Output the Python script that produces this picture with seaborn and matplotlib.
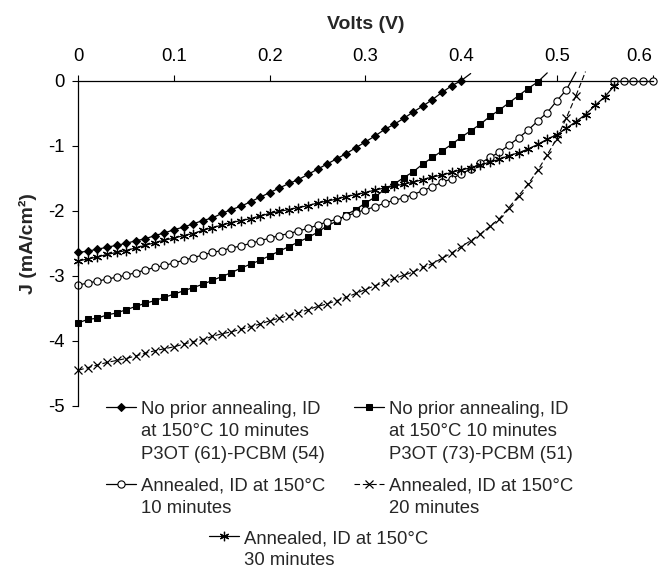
import matplotlib
matplotlib.use("Agg")
import matplotlib.pyplot as plt
import seaborn as sns
import pandas as pd

# ---------------- data ----------------
volts = [0.00, 0.01, 0.02, 0.03, 0.04, 0.05, 0.06, 0.07, 0.08, 0.09,
         0.10, 0.11, 0.12, 0.13, 0.14, 0.15, 0.16, 0.17, 0.18, 0.19,
         0.20, 0.21, 0.22, 0.23, 0.24, 0.25, 0.26, 0.27, 0.28, 0.29,
         0.30, 0.31, 0.32, 0.33, 0.34, 0.35, 0.36, 0.37, 0.38, 0.39,
         0.40, 0.41, 0.42, 0.43, 0.44, 0.45, 0.46, 0.47, 0.48, 0.49,
         0.50, 0.51, 0.52, 0.53, 0.54, 0.55, 0.56, 0.57, 0.58, 0.59, 0.60]

j_no_anneal_61_54 = [-2.64, -2.62, -2.59, -2.56, -2.53, -2.50, -2.46, -2.43, -2.38, -2.34,
                     -2.29, -2.25, -2.20, -2.15, -2.11, -2.04, -1.98, -1.93, -1.86, -1.79,
                     -1.72, -1.65, -1.58, -1.52, -1.44, -1.36, -1.28, -1.20, -1.12, -1.03,
                     -0.94, -0.85, -0.75, -0.67, -0.58, -0.48, -0.39, -0.29, -0.18, -0.08,
                     0.00]
j_no_anneal_61_54_next = 0.11   # line continues past the last marker

j_no_anneal_73_51 = [-3.72, -3.67, -3.65, -3.60, -3.57, -3.52, -3.47, -3.42, -3.38, -3.33,
                     -3.28, -3.23, -3.18, -3.13, -3.07, -3.01, -2.95, -2.88, -2.82, -2.76,
                     -2.69, -2.62, -2.55, -2.48, -2.41, -2.33, -2.23, -2.16, -2.06, -1.98,
                     -1.88, -1.79, -1.67, -1.59, -1.49, -1.40, -1.28, -1.18, -1.08, -0.98,
                     -0.87, -0.77, -0.67, -0.55, -0.45, -0.34, -0.23, -0.12, -0.02]
j_no_anneal_73_51_next = 0.12

j_annealed_10 = [-3.14, -3.11, -3.08, -3.05, -3.02, -2.99, -2.95, -2.91, -2.87, -2.84,
                 -2.80, -2.76, -2.72, -2.68, -2.64, -2.61, -2.57, -2.54, -2.50, -2.46,
                 -2.42, -2.38, -2.35, -2.31, -2.27, -2.22, -2.17, -2.13, -2.08, -2.03,
                 -1.98, -1.94, -1.88, -1.84, -1.80, -1.75, -1.69, -1.63, -1.56, -1.51,
                 -1.43, -1.36, -1.27, -1.18, -1.10, -0.99, -0.88, -0.76, -0.62, -0.49,
                 -0.31, -0.14]
j_annealed_10_next = 0.13
volts_annealed_10_tail = [0.56, 0.57, 0.58, 0.59, 0.60]
j_annealed_10_tail = [0.00, 0.00, 0.00, 0.00, 0.00]

j_annealed_20 = [-4.45, -4.41, -4.37, -4.33, -4.30, -4.27, -4.23, -4.19, -4.15, -4.12,
                 -4.09, -4.05, -4.01, -3.98, -3.93, -3.89, -3.86, -3.82, -3.78, -3.74,
                 -3.69, -3.65, -3.61, -3.57, -3.52, -3.47, -3.43, -3.38, -3.33, -3.27,
                 -3.21, -3.15, -3.10, -3.04, -2.99, -2.94, -2.87, -2.81, -2.73, -2.65,
                 -2.55, -2.46, -2.36, -2.24, -2.12, -1.95, -1.77, -1.59, -1.38, -1.14,
                 -0.89, -0.57, -0.23]
j_annealed_20_next = 0.14

j_annealed_30 = [-2.77, -2.74, -2.71, -2.67, -2.64, -2.61, -2.57, -2.53, -2.49, -2.45,
                 -2.42, -2.38, -2.35, -2.30, -2.26, -2.22, -2.18, -2.15, -2.12, -2.08,
                 -2.04, -2.01, -1.98, -1.95, -1.92, -1.88, -1.85, -1.82, -1.78, -1.75,
                 -1.72, -1.68, -1.65, -1.62, -1.59, -1.56, -1.52, -1.48, -1.45, -1.41,
                 -1.37, -1.34, -1.30, -1.25, -1.21, -1.15, -1.11, -1.05, -0.98, -0.90,
                 -0.83, -0.73, -0.63, -0.52, -0.38, -0.25, -0.08]

labels = ["No prior annealing, ID\nat 150°C 10 minutes\nP3OT (61)-PCBM (54)",
          "No prior annealing, ID\nat 150°C 10 minutes\nP3OT (73)-PCBM (51)",
          "Annealed, ID at 150°C\n10 minutes",
          "Annealed, ID at 150°C\n20 minutes",
          "Annealed, ID at 150°C\n30 minutes"]

x_ticks = [0.0, 0.1, 0.2, 0.3, 0.4, 0.5, 0.6]
x_tick_labels = ["0", "0.1", "0.2", "0.3", "0.4", "0.5", "0.6"]
y_ticks = [0, -1, -2, -3, -4, -5]
y_tick_labels = ["0", "-1", "-2", "-3", "-4", "-5"]

# ---------------- style ----------------
sns.set_style("ticks")
plt.rcParams["font.family"] = ["Liberation Sans", "DejaVu Sans"]
plt.rcParams["axes.unicode_minus"] = False

fig = plt.figure(figsize=(6.63, 5.69), dpi=100)
ax = fig.add_axes([78.3 / 663, 1 - 406 / 569, (652.5 - 78.3) / 663, (406 - 80.7) / 569])

common = dict(color="black", linewidth=0.9, clip_on=False, sort=False,
              estimator=None, legend=False, ax=ax)


def series(xv, yv):
    return pd.DataFrame({"V": xv[:len(yv)], "J": yv})


def tail(yv, nxt):
    n = len(yv)
    return pd.DataFrame({"V": volts[n - 1:n + 1], "J": [yv[-1], nxt]})


d1 = series(volts, j_no_anneal_61_54)
sns.lineplot(data=tail(j_no_anneal_61_54, j_no_anneal_61_54_next), x="V", y="J", **common)
sns.lineplot(data=d1, x="V", y="J", marker="D", markersize=4.3,
             markerfacecolor="black", markeredgecolor="black", **common)
h1 = ax.lines[-1]

d2 = series(volts, j_no_anneal_73_51)
sns.lineplot(data=tail(j_no_anneal_73_51, j_no_anneal_73_51_next), x="V", y="J", **common)
sns.lineplot(data=d2, x="V", y="J", marker="s", markersize=4.6,
             markerfacecolor="black", markeredgecolor="black", **common)
h2 = ax.lines[-1]

d3 = series(volts, j_annealed_10)
sns.lineplot(data=tail(j_annealed_10, j_annealed_10_next), x="V", y="J", **common)
sns.lineplot(data=d3, x="V", y="J", marker="o", markersize=5.2,
             markerfacecolor="white", markeredgecolor="black",
             markeredgewidth=0.8, **common)
h3 = ax.lines[-1]
d3b = series(volts_annealed_10_tail, j_annealed_10_tail)
sns.lineplot(data=d3b, x="V", y="J", marker="o", markersize=5.2,
             markerfacecolor="white", markeredgecolor="black",
             markeredgewidth=0.8, **common)

d4 = series(volts, j_annealed_20)
sns.lineplot(data=tail(j_annealed_20, j_annealed_20_next), x="V", y="J", **common)
ax.lines[-1].set_linestyle((0, (5, 2.5)))
ax.lines[-1].set_linewidth(0.8)
sns.lineplot(data=d4, x="V", y="J", marker="x", markersize=5.5,
             markeredgecolor="black", markeredgewidth=0.9, **common)
h4 = ax.lines[-1]
h4.set_linestyle((0, (5, 2.5)))
h4.set_linewidth(0.8)

d5 = series(volts, j_annealed_30)
sns.lineplot(data=d5, x="V", y="J", marker=(6, 2, 0), markersize=6.8,
             markeredgecolor="black", markeredgewidth=0.9, **common)
h5 = ax.lines[-1]

# ---------------- axes ----------------
ax.set_xlim(0, 0.6)
ax.set_ylim(-5, 0)
ax.xaxis.tick_top()
ax.xaxis.set_label_position("top")
ax.set_xticks(x_ticks)
ax.set_xticklabels(x_tick_labels)
ax.set_yticks(y_ticks)
ax.set_yticklabels(y_tick_labels)
ax.tick_params(axis="both", direction="out", length=4, width=0.8,
               labelsize=13.3, colors="black")
ax.tick_params(axis="x", pad=7)
ax.tick_params(axis="y", pad=6)
ax.get_xticklabels()[-1].set_horizontalalignment("right")
for s in ["right", "bottom"]:
    ax.spines[s].set_visible(False)
for s in ["top", "left"]:
    ax.spines[s].set_linewidth(0.9)
    ax.spines[s].set_color("black")

ax.set_xlabel("Volts (V)", fontsize=14, fontweight="bold", labelpad=14)
ax.set_ylabel("J (mA/cm²)", fontsize=14, fontweight="bold", labelpad=8)

# ---------------- legends ----------------
leg_kw = dict(frameon=False, fontsize=13.3, handlelength=1.6, handletextpad=0.3,
              borderpad=0, borderaxespad=0, labelspacing=0.8,
              loc="upper left")

leg1 = fig.legend([h1, h3, h2, h4], [labels[0], labels[2], labels[1], labels[3]],
                  ncol=2, columnspacing=1.55,
                  bbox_to_anchor=(106 / 663, 1 - 401 / 569), **leg_kw)
leg2 = fig.legend([h5], [labels[4]],
                  bbox_to_anchor=(209 / 663, 1 - 530 / 569), **leg_kw)

for leg in (leg1, leg2):
    for t in leg.get_texts():
        t.set_linespacing(1.42)
    for col in leg._legend_handle_box.get_children():
        for entry in col.get_children():
            entry.align = "top"

fig.savefig("out.png", dpi=100)
